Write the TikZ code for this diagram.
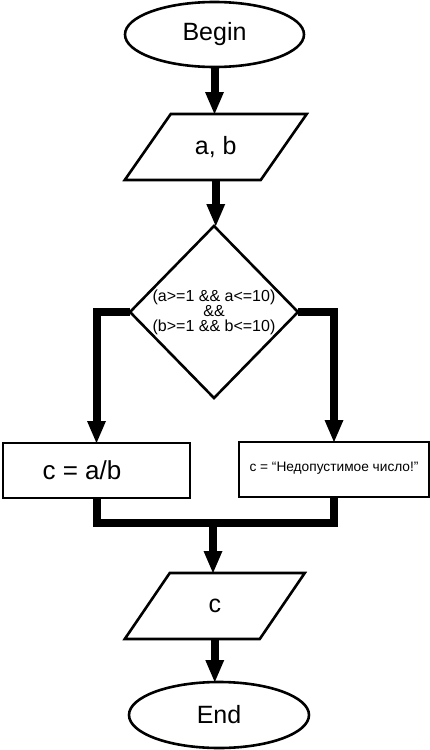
\documentclass[tikz,border=0pt]{standalone}
\usepackage{fontspec}
\setmainfont{Liberation Sans}
\usetikzlibrary{arrows.meta,shapes.geometric}
\begin{document}
\begin{tikzpicture}[x=1pt,y=-1pt,
  shapeline/.style={draw=black,line width=2.6pt},
  bigtext/.style={font=\fontsize{25}{30}\selectfont},
  term/.style={ellipse,shapeline,inner sep=0pt,outer sep=0pt,bigtext},
  iobox/.style={rectangle,inner sep=0pt,outer sep=0pt,bigtext},
  iopoly/.style={shapeline,line join=miter},
  procbox/.style={rectangle,shapeline,inner sep=0pt,outer sep=0pt},
  decision/.style={diamond,shapeline,inner sep=0pt,outer sep=0pt,align=center,font=\fontsize{16}{15}\selectfont},
  flow/.style={line width=8pt,line join=miter,-{Triangle[length=22pt,width=19pt,line width=0pt]}},
  joinline/.style={line width=8pt,line join=miter}]
\useasboundingbox (0,0) rectangle (430,750);
\fill[white] (0,0) rectangle (430,750);

\node[term,minimum width=179pt,minimum height=65pt] (begin) at (214.5,34.5) {Begin};

\node[iobox,minimum width=136pt,minimum height=66pt] (ab) at (215.75,147) {a, b};
\draw[iopoly] ([xshift=23pt]ab.north west) -- ([xshift=23pt]ab.north east) -- ([xshift=-23pt]ab.south east) -- ([xshift=-23pt]ab.south west) -- cycle;

\node[decision,minimum width=168pt,minimum height=172pt] (dec) at (214,312) {(a>=1 \&\& a<=10)\\\&\&\\(b>=1 \&\& b<=10)};

\node[procbox,minimum width=187pt,minimum height=55pt] (lbox) at (96.5,470.5) {};
\node[bigtext,inner sep=0pt,font=\fontsize{26}{30}\selectfont] (ltext) at (82,470) {c = a/b};
\node[procbox,minimum width=190pt,minimum height=55pt] (rbox) at (334,469.5) {};
\node[inner sep=0pt,font=\fontsize{13.7}{16}\selectfont] (rtext) at (334,468.5) {c = “Недопустимое число!”};

\node[iobox,minimum width=135pt,minimum height=66pt] (cout) at (214.75,606) {c};
\draw[iopoly] ([xshift=22.5pt]cout.north west) -- ([xshift=22.5pt]cout.north east) -- ([xshift=-22.5pt]cout.south east) -- ([xshift=-22.5pt]cout.south west) -- cycle;

\node[term,minimum width=180pt,minimum height=66pt] (end) at (219,715) {End};

\coordinate (m) at (213,523);

\draw[flow] (begin.south) -- (begin.south |- ab.north);
\draw[flow] (ab.south) -- (ab.south |- dec.north);
\draw[flow] (dec.west) -| (lbox.north);
\draw[flow] (dec.east) -| (rbox.north);
\draw[joinline] (lbox.south) |- (m) -| (rbox.south);
\draw[flow] (m) -- (m |- cout.north);
\draw[flow] (cout.south) -- (cout.south |- end.north);
\end{tikzpicture}
\end{document}
